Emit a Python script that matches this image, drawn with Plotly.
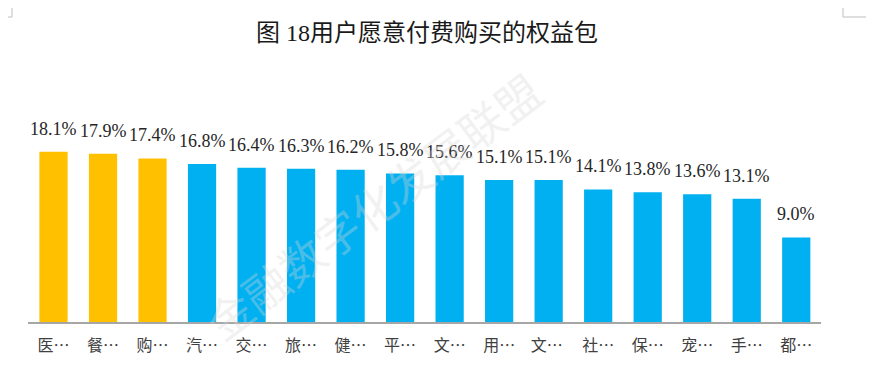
import plotly.graph_objects as go

categories = ["医…", "餐…", "购…", "汽…", "交…", "旅…", "健…", "平…",
              "文…", "用…", "文… ", "社…", "保…", "宠…", "手…", "都…"]
values = [18.1, 17.9, 17.4, 16.8, 16.4, 16.3, 16.2, 15.8,
          15.6, 15.1, 15.1, 14.1, 13.8, 13.6, 13.1, 9.0]
highlight_count = 3
title_text = "图 18用户愿意付费购买的权益包"
watermark_text = "金融数字化发展联盟"

GOLD = "#FFC000"
BLUE = "#00B0F0"
colors = [GOLD if i < highlight_count else BLUE for i in range(len(values))]

OFF = 8  # page body margin
W, H = 874, 375
L, T = 28 - OFF, 134 - OFF
R = W - (821 - OFF)
B = H - (322 - OFF)
PW, PH = W - L - R, H - T - B

def px_x(p):
    return (p - OFF - L) / PW

def px_y(p):
    return (T + PH - (p - OFF)) / PH

fig = go.Figure()
fig.add_trace(go.Bar(
    x=categories, y=values, marker=dict(color=colors, line=dict(width=0)),
    hoverinfo="skip",
))

ann = []
for c, v in zip(categories, values):
    ann.append(dict(
        x=c, y=v, xref="x", yref="y", text=f"{v:.1f}%", showarrow=False,
        yanchor="bottom", yshift=11,
        font=dict(family="Liberation Serif, DejaVu Serif, serif", size=18, color="#262626"),
    ))
# title
ann.append(dict(
    x=px_x(427), y=px_y(33), xref="paper", yref="paper", text=title_text,
    showarrow=False, xanchor="center", yanchor="middle",
    font=dict(family="Liberation Serif, Noto Sans CJK SC, serif", size=24, color="#1a1a1a"),
))
# watermark
ann.append(dict(
    x=px_x(372), y=px_y(205), xref="paper", yref="paper", text=watermark_text,
    showarrow=False, textangle=-37, xanchor="center", yanchor="middle",
    font=dict(family="Noto Sans CJK SC, sans-serif", size=45, color="rgba(215,215,215,0.35)"),
))

line_style = dict(color="#BFBFBF", width=1)
shapes = [
    dict(type="line", xref="paper", yref="paper", x0=px_x(12), x1=px_x(12), y0=px_y(0), y1=px_y(17), line=line_style),
    dict(type="line", xref="paper", yref="paper", x0=px_x(0), x1=px_x(12), y0=px_y(17), y1=px_y(17), line=line_style),
    dict(type="line", xref="paper", yref="paper", x0=px_x(843), x1=px_x(843), y0=px_y(0), y1=px_y(17), line=line_style),
    dict(type="line", xref="paper", yref="paper", x0=px_x(843), x1=px_x(874), y0=px_y(17), y1=px_y(17), line=line_style),
]

fig.update_layout(
    width=W, height=H,
    margin=dict(l=L, r=R, t=T, b=B, pad=0),
    paper_bgcolor="white", plot_bgcolor="white",
    bargap=0.43,
    showlegend=False,
    annotations=ann,
    shapes=shapes,
    xaxis=dict(
        showline=True, linecolor="#A6A6A6", linewidth=2,
        showgrid=False, ticks="", ticklabelstandoff=8,
        tickfont=dict(family="Noto Sans CJK SC, serif", size=16, color="#404040"),
        fixedrange=True,
    ),
    yaxis=dict(
        range=[0, 20], visible=False, showgrid=False, zeroline=False, fixedrange=True,
    ),
)

fig.write_html("out.html")
